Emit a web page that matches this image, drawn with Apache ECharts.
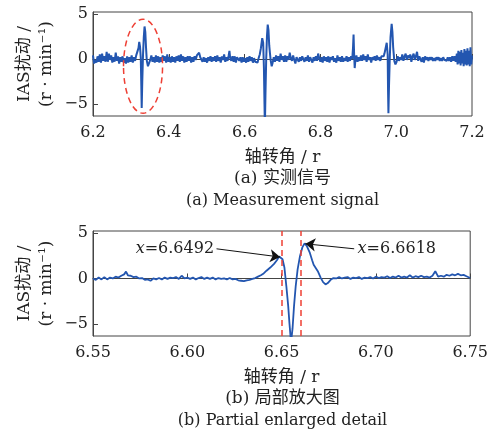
<!DOCTYPE html>
<html><head><meta charset="utf-8">
<script src="https://cdn.jsdelivr.net/npm/echarts@6/dist/echarts.min.js"></script>
<style>html,body{margin:0;padding:0;background:#fff}#c{width:491px;height:441px}</style>
</head><body><div id="c"></div>
<script>
// ---- data (shaft angle r, IAS fluctuation r/min) ----
const yTicks = [-5, 0, 5];
const topSignal = [
[6.200,0.4],[6.203,-0.5],[6.206,-0.1],[6.209,-0.4],[6.212,0.3],[6.215,-0.3],[6.218,0.5],[6.221,-0.4],[6.224,0.6],[6.227,-0.2],
[6.230,0.3],[6.233,-0.3],[6.236,0.8],[6.239,-0.3],[6.242,0.6],[6.245,-0.1],[6.248,0.4],[6.251,-0.4],[6.254,0.2],[6.257,-0.3],
[6.260,0.7],[6.263,-0.2],[6.266,0.3],[6.269,-0.5],[6.272,0.2],[6.275,-0.3],[6.278,0.3],[6.281,-0.4],[6.284,0.1],[6.287,-0.5],
[6.290,0.3],[6.293,-0.4],[6.296,0.2],[6.299,-0.3],[6.302,0.4],[6.305,-0.4],[6.308,0.2],[6.311,-0.2],[6.314,0.4],
[6.317,0.5],[6.320,1.2],[6.322,1.9],[6.324,1.4],[6.326,0.2],[6.3275,-3.0],[6.3285,-5.4],[6.330,-2.5],[6.332,0.5],[6.334,2.4],
[6.336,3.6],[6.338,3.0],[6.340,1.2],[6.342,-0.2],[6.345,-0.8],[6.348,-0.7],[6.351,-0.1],[6.354,0.4],[6.357,-0.3],[6.360,0.2],
[6.363,-0.4],[6.366,0.4],[6.369,-0.3],[6.372,0.3],[6.375,-0.4],[6.378,0.2],[6.381,-0.3],[6.384,0.4],[6.387,-0.2],[6.390,0.3],
[6.393,-0.4],[6.396,0.5],[6.399,-0.3],[6.402,0.2],[6.405,-0.4],[6.408,0.3],[6.411,-0.3],[6.414,0.2],[6.417,-0.4],[6.420,0.3],
[6.423,-0.2],[6.426,0.4],[6.429,-0.3],[6.432,0.5],[6.435,-0.2],[6.438,0.3],[6.441,-0.4],[6.444,0.2],[6.447,-0.3],[6.450,0.3],
[6.453,-0.2],[6.456,0.3],[6.459,-0.4],[6.462,0.2],[6.465,-0.3],[6.468,0.3],[6.471,-0.1],[6.474,0.4],[6.477,0.3],[6.480,0.7],
[6.483,0.2],[6.486,0.4],[6.489,-0.3],[6.492,0.2],[6.495,-0.3],[6.498,0.1],[6.501,-0.4],[6.504,0.2],[6.507,-0.2],[6.510,0.3],
[6.513,-0.3],[6.516,0.2],[6.519,-0.2],[6.522,0.3],[6.525,-0.3],[6.528,0.4],[6.531,-0.2],[6.534,0.2],[6.537,-0.4],[6.540,0.3],
[6.543,-0.1],[6.546,0.5],[6.549,-0.3],[6.552,0.2],[6.555,-0.2],[6.558,0.4],[6.560,0.9],[6.562,0.1],[6.565,-0.2],[6.568,0.3],
[6.571,-0.3],[6.574,0.3],[6.577,-0.4],[6.580,0.2],[6.583,0.4],[6.586,-0.2],[6.589,0.2],[6.592,-0.4],[6.595,0.2],[6.598,-0.3],
[6.601,0.1],[6.604,-0.4],[6.607,0.2],[6.610,-0.3],[6.613,0.3],[6.616,-0.2],[6.619,0.2],[6.622,-0.4],[6.625,0.1],[6.628,-0.3],
[6.631,-0.1],[6.634,-0.4],[6.637,0.1],[6.640,0.5],
[6.643,1.2],[6.6465,2.3],[6.649,1.8],[6.651,-1.0],[6.6525,-5.0],[6.6535,-7.5],[6.655,-4.0],[6.657,0.0],[6.659,2.5],[6.661,3.8],
[6.663,3.2],[6.665,1.5],[6.667,0.6],[6.669,-0.2],[6.6715,-0.8],[6.674,-0.4],[6.677,0.2],[6.680,-0.3],[6.683,0.4],[6.686,-0.2],
[6.689,0.3],[6.692,-0.3],[6.695,0.6],[6.698,-0.1],[6.701,0.3],[6.704,-0.3],[6.707,0.4],[6.710,-0.3],[6.713,0.3],[6.716,-0.1],
[6.719,0.7],[6.722,0.1],[6.725,-0.2],[6.728,0.4],[6.731,-0.1],[6.734,-0.5],[6.737,0.2],[6.740,0.4],[6.743,-0.3],[6.746,0.2],
[6.749,-0.2],[6.752,0.3],[6.755,0.5],[6.758,-0.3],[6.761,0.2],[6.764,-0.2],[6.767,0.4],[6.770,-0.3],[6.773,0.2],[6.776,-0.1],
[6.779,-0.4],[6.782,0.2],[6.785,-0.2],[6.788,0.3],[6.791,-0.2],[6.794,0.6],[6.797,0.1],[6.800,-0.3],[6.803,0.2],[6.806,-0.4],
[6.809,0.3],[6.812,-0.2],[6.815,0.2],[6.818,-0.3],[6.821,0.3],[6.824,-0.4],[6.827,0.2],[6.830,-0.1],[6.833,0.3],[6.836,-0.3],
[6.839,0.1],[6.842,-0.4],[6.845,0.4],[6.848,-0.2],[6.851,0.2],[6.854,-0.3],[6.857,0.3],[6.860,-0.3],[6.863,0.1],[6.866,-0.2],
[6.869,0.3],[6.872,-0.3],[6.875,0.2],[6.878,-0.2],[6.881,0.3],[6.884,0.0],
[6.886,1.2],[6.8875,2.7],[6.889,0.5],[6.8905,-1.0],[6.892,-0.3],[6.895,0.4],[6.898,-0.3],[6.901,0.2],[6.904,-0.2],[6.907,0.4],
[6.910,-0.2],[6.913,0.5],[6.916,-0.1],[6.919,0.3],[6.922,-0.3],[6.925,0.5],[6.928,-0.1],[6.931,0.2],[6.934,-0.4],[6.937,0.2],
[6.940,-0.1],[6.943,0.3],[6.946,-0.2],[6.949,0.4],[6.952,-0.1],[6.955,0.2],[6.958,-0.2],[6.961,0.3],[6.964,0.1],[6.967,0.3],
[6.969,0.6],[6.972,1.2],[6.975,1.8],[6.9775,0.5],[6.9785,-3.5],[6.9795,-6.0],[6.981,-3.0],[6.983,0.0],[6.985,2.4],[6.988,3.9],
[6.990,3.0],[6.992,1.3],[6.995,-0.2],[6.998,-0.6],[7.001,-0.3],[7.004,0.3],[7.007,-0.2],[7.010,0.2],[7.013,-0.1],[7.016,0.5],
[7.019,-0.2],[7.022,0.3],[7.025,0.6],[7.028,-0.1],[7.031,0.4],[7.034,0.1],[7.037,0.5],[7.040,-0.3],[7.043,0.3],[7.046,0.6],
[7.049,-0.1],[7.052,0.3],[7.055,0.8],[7.058,-0.2],[7.061,0.3],[7.064,0.5],[7.067,-0.3],[7.070,0.2],[7.073,-0.4],[7.076,0.3],
[7.079,-0.1],[7.082,0.2],[7.085,-0.2],[7.088,0.2],[7.091,-0.1],[7.094,0.2],[7.097,-0.2],[7.100,0.1],[7.103,-0.2],[7.106,0.2],
[7.109,-0.1],[7.112,0.2],[7.115,-0.2],[7.118,0.1],[7.121,-0.2],[7.124,0.2],[7.127,-0.1],[7.130,0.1],[7.133,-0.2],[7.136,0.2],
[7.139,-0.2],[7.142,0.2],[7.145,-0.3],[7.148,0.3],[7.151,-0.2],[7.154,0.3],[7.157,-0.3],[7.160,0.6],[7.162,-0.6],[7.164,0.9],
[7.166,-0.5],[7.168,0.8],[7.170,-0.7],[7.172,1.0],[7.174,-0.5],[7.176,0.7],[7.178,-0.8],[7.180,1.1],[7.182,-0.6],[7.184,0.9],
[7.186,-0.7],[7.188,1.2],[7.190,-0.6],[7.192,0.9],[7.194,-0.8],[7.196,1.3],[7.198,-0.6],[7.200,0.4]
];
const detailSignal = [
[6.5500,0.0],[6.5515,-0.15],[6.5530,0.1],[6.5545,-0.1],[6.5560,0.15],[6.5575,-0.1],[6.5590,0.1],[6.5605,0.0],[6.5620,0.2],[6.5635,0.1],
[6.5650,0.3],[6.5665,0.45],[6.5675,0.75],[6.5685,0.35],[6.5700,0.3],[6.5715,0.15],[6.5730,0.2],[6.5745,0.0],[6.5760,0.05],[6.5775,-0.15],
[6.5790,-0.1],[6.5805,-0.25],[6.5820,0.0],[6.5835,-0.1],[6.5850,0.05],[6.5865,-0.1],[6.5880,0.1],[6.5895,-0.05],[6.5910,0.1],[6.5925,0.05],
[6.5940,0.15],[6.5955,-0.05],[6.5970,0.3],[6.5985,0.0],[6.6000,0.1],[6.6015,-0.05],[6.6030,0.1],[6.6045,-0.1],[6.6060,0.05],[6.6075,0.15],
[6.6090,-0.05],[6.6105,0.1],[6.6120,-0.05],[6.6135,0.1],[6.6150,-0.1],[6.6165,0.05],[6.6180,-0.05],[6.6195,0.0],[6.6210,-0.1],[6.6225,0.05],
[6.6240,-0.1],[6.6255,-0.05],[6.6270,-0.2],[6.6285,-0.25],[6.6300,-0.3],[6.6315,-0.2],[6.6330,-0.15],[6.6345,-0.05],[6.6360,0.05],[6.6375,0.2],
[6.6390,0.35],[6.6405,0.55],[6.6420,0.85],[6.6440,1.2],[6.6460,1.6],[6.6475,2.0],[6.6487,2.4],[6.6495,2.2],[6.6505,2.1],[6.6515,1.2],
[6.6525,-0.8],[6.6535,-3.0],[6.6542,-5.0],[6.6550,-7.0],[6.6558,-5.5],[6.6566,-3.0],[6.6575,-0.8],[6.6585,1.0],[6.6597,2.4],[6.6610,3.4],
[6.6622,3.85],[6.6635,3.5],[6.6650,2.8],[6.6662,2.0],[6.6670,1.5],[6.6680,1.4],[6.6692,0.8],[6.6707,0.1],[6.6720,-0.4],[6.6733,-0.65],
[6.6745,-0.5],[6.6760,-0.15],[6.6775,0.05],[6.6790,0.0],[6.6805,0.15],[6.6820,0.0],[6.6835,0.1],[6.6850,0.15],[6.6865,-0.05],[6.6880,0.1],
[6.6895,0.05],[6.6910,0.15],[6.6925,-0.05],[6.6940,0.1],[6.6955,0.05],[6.6970,0.15],[6.6985,0.0],[6.7000,0.2],[6.7015,0.05],[6.7030,0.15],
[6.7045,0.1],[6.7060,0.25],[6.7075,0.05],[6.7090,0.2],[6.7105,0.1],[6.7120,0.3],[6.7135,0.1],[6.7150,0.2],[6.7165,0.1],[6.7180,0.35],
[6.7195,0.1],[6.7210,0.25],[6.7225,0.15],[6.7240,0.3],[6.7255,0.15],[6.7270,0.2],[6.7285,0.1],[6.7300,0.3],[6.7315,0.8],[6.7330,0.2],
[6.7345,0.3],[6.7360,0.2],[6.7375,0.4],[6.7390,0.3],[6.7405,0.45],[6.7420,0.35],[6.7435,0.5],[6.7450,0.35],[6.7465,0.4],[6.7480,0.25],
[6.7500,0.05]
];
const markedAngles = [6.6492, 6.6618];
// ellipse around first event (data units): center x, center y, half-width, half-height
const ellipseData = {cx: 6.332, cy: -0.8, rx: 0.0515, ry: 5.2};

const FONT = '"DejaVu Serif", "Noto Sans CJK SC", serif';
const BLUE = '#2356b0';
const RED = '#ee4035';
const AX = '#444';
const TXT = '#222';

function xAxisCfg(gridIndex, min, max, interval, dec) {
  return {
    type: 'value', gridIndex, min, max, interval,
    name: '轴转角 / r', nameLocation: 'middle', nameGap: 33, nameMoveOverlap: false,
    nameTextStyle: {fontFamily: FONT, fontSize: 17, color: TXT},
    axisLine: {show: true, lineStyle: {color: AX, width: 1}},
    axisTick: {show: true, inside: true, length: 5, lineStyle: {color: AX}},
    axisLabel: {fontFamily: FONT, fontSize: 16, color: TXT, margin: 9,
      formatter: v => v.toFixed(dec)},
    splitLine: {show: false}
  };
}
function yAxisCfg(gridIndex) {
  return {
    type: 'value', gridIndex, min: -6.3, max: 5.2,
    name: 'IAS扰动 /\n(r · min⁻¹)', nameLocation: 'middle', nameGap: 35, nameMoveOverlap: false,
    nameTextStyle: {fontFamily: FONT, fontSize: 17, color: TXT, lineHeight: 22},
    axisLine: {show: true, lineStyle: {color: AX, width: 1}},
    axisTick: {show: true, inside: true, length: 5, customValues: yTicks, lineStyle: {color: AX}},
    axisLabel: {fontFamily: FONT, fontSize: 16, color: TXT, margin: 5, customValues: yTicks,
      formatter: v => (v < 0 ? '\u2212' + Math.abs(v) : String(v))},
    splitLine: {show: false}
  };
}

const chart = echarts.init(document.getElementById('c'), null, {renderer: 'canvas'});
const option = {
  animation: false,
  backgroundColor: '#fff',
  grid: [
    {left: 93, right: 19, top: 12, height: 104, show: true, borderColor: AX, borderWidth: 1},
    {left: 93, right: 19, top: 231, height: 105, show: true, borderColor: AX, borderWidth: 1}
  ],
  xAxis: [xAxisCfg(0, 6.2, 7.2, 0.2, 1), xAxisCfg(1, 6.55, 6.75, 0.05, 2)],
  yAxis: [yAxisCfg(0), yAxisCfg(1)],
  series: [
    {type: 'line', xAxisIndex: 0, yAxisIndex: 0, data: topSignal, symbol: 'none',
      lineStyle: {color: BLUE, width: 2}},
    {type: 'line', xAxisIndex: 1, yAxisIndex: 1, data: detailSignal, symbol: 'none',
      lineStyle: {color: BLUE, width: 1.8},
      markLine: {silent: true, symbol: 'none', label: {show: false},
        lineStyle: {color: RED, type: [6, 4], width: 1.5},
        data: markedAngles.map(a => ({xAxis: a}))}},
    {type: 'line', xAxisIndex: 1, yAxisIndex: 1, data: [], symbol: 'none',
      markLine: {silent: true, symbol: ['none', 'arrow'], symbolSize: 10,
        label: {show: false}, lineStyle: {color: '#111', type: 'solid', width: 1},
        data: [
          [{coord: [6.6155, 3.25], symbol: 'none'}, {coord: [markedAngles[0], 2.35], symbol: 'arrow', symbolSize: 10}],
          [{coord: [6.6885, 3.25], symbol: 'none'}, {coord: [6.6626, 3.8], symbol: 'arrow', symbolSize: 10}]
        ]},
      markPoint: {silent: true, symbol: 'circle', symbolSize: 1, itemStyle: {color: 'rgba(0,0,0,0)'},
        label: {show: true, color: TXT, fontFamily: FONT, fontSize: 16,
          rich: {i: {fontStyle: 'italic', fontFamily: FONT, fontSize: 16, color: TXT}}},
        data: [
          {coord: [6.6150, 3.25], label: {position: 'left', distance: 1, formatter: '{i|x}=' + markedAngles[0].toFixed(4)}},
          {coord: [6.6895, 3.25], label: {position: 'right', distance: 1, formatter: '{i|x}=' + markedAngles[1].toFixed(4)}}
        ]}}
  ]
};
chart.setOption(option);

// annotations: ellipse (converted from data units) and captions
const c0 = chart.convertToPixel({xAxisIndex: 0, yAxisIndex: 0}, [ellipseData.cx, ellipseData.cy]);
const c1 = chart.convertToPixel({xAxisIndex: 0, yAxisIndex: 0}, [ellipseData.cx + ellipseData.rx, ellipseData.cy + ellipseData.ry]);
const g0 = chart.getModel().getComponent('grid', 0).coordinateSystem.getRect();
const g1 = chart.getModel().getComponent('grid', 1).coordinateSystem.getRect();
const midX = g0.x + g0.width / 2;
function caption(y, text, size) {
  return {type: 'text', x: midX, y: y,
    style: {text: text, fontFamily: FONT, fontSize: size, fill: TXT, align: 'center', verticalAlign: 'middle'}};
}
chart.setOption({
  graphic: [
    {type: 'ellipse', shape: {cx: c0[0], cy: c0[1], rx: Math.abs(c1[0] - c0[0]), ry: Math.abs(c0[1] - c1[1])},
      style: {fill: 'none', stroke: RED, lineWidth: 1.5, lineDash: [6, 4]}, silent: true, z: 10},
    caption(g0.y + g0.height + 63, '(a) 实测信号', 17),
    caption(g0.y + g0.height + 85, '(a) Measurement signal', 16),
    caption(g1.y + g1.height + 63, '(b) 局部放大图', 17),
    caption(g1.y + g1.height + 85, '(b) Partial enlarged detail', 16)
  ]
});
</script>
</body></html>
